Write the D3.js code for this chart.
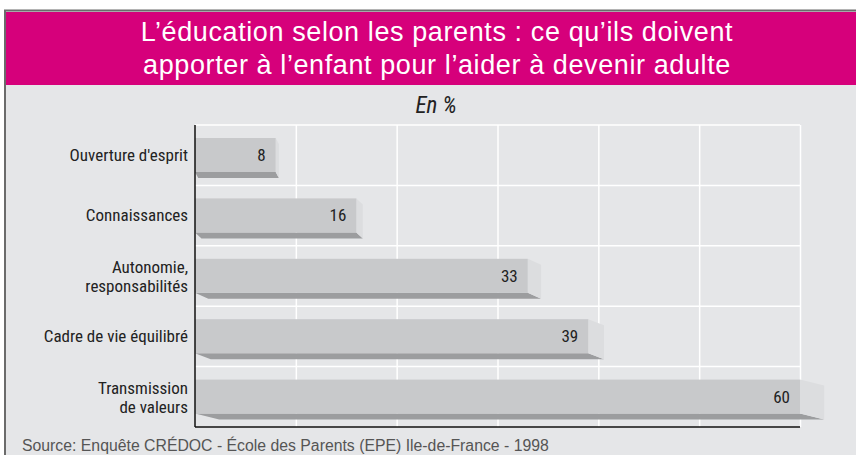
<!DOCTYPE html>
<html>
<head>
<meta charset="utf-8">
<script src="https://cdn.jsdelivr.net/npm/d3@7"></script>
<style>
  body { margin: 0; background: #fff; }
  svg { display: block; }
</style>
</head>
<body>
<div id="chart"></div>
<script>
// Données
const categories = ["Ouverture d'esprit", "Connaissances", "Autonomie,\nresponsabilités", "Cadre de vie équilibré", "Transmission\nde valeurs"];
const values = [8, 16, 33, 39, 60];
const xTicks = [0, 10, 20, 30, 40, 50, 60];
const titleLines = ["L\u2019éducation selon les parents : ce qu\u2019ils doivent", "apporter à l\u2019enfant pour l\u2019aider à devenir adulte"];
const unitLabel = "En %";
const sourceText = "Source: Enquête CRÉDOC - École des Parents (EPE) Ile-de-France - 1998";

const svgWidth = 856;
const svgHeight = 455;
const narrow = "'Liberation Sans Narrow', 'Arial Narrow', 'Roboto Condensed', sans-serif";

const svg = d3.select("#chart")
    .append("svg")
    .attr("width", svgWidth)
    .attr("height", svgHeight);

// Cadre + fond
svg.append("rect")
    .attr("x", 5).attr("y", 10.5)
    .attr("width", 870).attr("height", 460)
    .attr("fill", "#e5e6e8")
    .attr("stroke", "#6b6b6b")
    .attr("stroke-width", 2);

svg.append("rect")
    .attr("x", 6).attr("y", 12)
    .attr("width", 850).attr("height", 73)
    .attr("fill", "#d6007b");

svg.append("g")
    .selectAll("text")
    .data(titleLines)
    .enter().append("text")
    .attr("x", 437)
    .attr("y", (d, i) => 41 + i * 33)
    .attr("text-anchor", "middle")
    .attr("font-family", "'Liberation Sans', Arial, sans-serif")
    .attr("font-size", 27)
    .attr("letter-spacing", 0.6)
    .attr("fill", "#fff")
    .text(d => d);

svg.append("text")
    .attr("x", 436).attr("y", 113)
    .attr("text-anchor", "middle")
    .attr("font-family", narrow)
    .attr("font-style", "italic")
    .attr("font-size", 23)
    .attr("fill", "#222")
    .text(unitLabel);

// Échelles
const x = d3.scaleLinear().domain([0, 60]).range([195, 800]);
const y = d3.scaleBand().domain(categories).range([125, 427]).padding(0);

// Grille
svg.append("g")
    .attr("transform", "translate(0,427)")
    .call(d3.axisBottom(x).tickValues(xTicks.slice(1)).tickSize(-302).tickFormat(""))
    .call(g => g.select(".domain").remove())
    .call(g => g.selectAll(".tick line").attr("stroke", "#fff").attr("stroke-width", 1.5));

svg.append("g")
    .selectAll("line")
    .data(categories)
    .enter().append("line")
    .attr("x1", x(0)).attr("x2", x(60))
    .attr("y1", d => y(d)).attr("y2", d => y(d))
    .attr("stroke", "#fff").attr("stroke-width", 1.5);

// Barres 3D
const barTop = 13, barH = 34, depthY = 6;
const bars = svg.append("g")
    .selectAll("g")
    .data(categories.map((c, i) => ({ c, v: values[i] })))
    .enter().append("g");

const dx = d => (x(d.v) - x(0)) * 0.04;

bars.append("path")
    .attr("fill", "#9c9d9f")
    .attr("d", d => {
        const t = y(d.c) + barTop + barH;
        return `M${x(0)},${t}L${x(d.v)},${t}L${x(d.v) + dx(d)},${t + depthY}L${x(0) + dx(d)},${t + depthY}Z`;
    });

bars.append("path")
    .attr("fill", "#dcdddf")
    .attr("d", d => {
        const t = y(d.c) + barTop;
        return `M${x(d.v)},${t}L${x(d.v) + dx(d)},${t + depthY}L${x(d.v) + dx(d)},${t + barH + depthY}L${x(d.v)},${t + barH}Z`;
    });

bars.append("rect")
    .attr("x", x(0))
    .attr("y", d => y(d.c) + barTop)
    .attr("width", d => x(d.v) - x(0))
    .attr("height", barH)
    .attr("fill", "#c8c9cb");

bars.append("text")
    .attr("x", d => x(d.v) - 10)
    .attr("y", d => y(d.c) + barTop + barH / 2 + 6)
    .attr("text-anchor", "end")
    .attr("font-family", narrow)
    .attr("font-size", 17)
    .attr("fill", "#222")
    .text(d => d.v);

// Axes
svg.append("line")
    .attr("x1", x(0)).attr("x2", x(0))
    .attr("y1", 125).attr("y2", 427)
    .attr("stroke", "#111").attr("stroke-width", 1.5);
svg.append("line")
    .attr("x1", x(0)).attr("x2", x(60))
    .attr("y1", 427).attr("y2", 427)
    .attr("stroke", "#111").attr("stroke-width", 1.5);

// Libellés
const labels = svg.append("g")
    .attr("font-family", narrow)
    .attr("font-size", 17)
    .attr("fill", "#222")
    .attr("text-anchor", "end")
    .selectAll("text")
    .data(categories)
    .enter().append("text")
    .attr("y", d => y(d) + barTop + barH / 2 + 6);

labels.selectAll("tspan")
    .data(d => d.split("\n").map((s, i, a) => ({ s, dy: a.length > 1 ? (i === 0 ? -9 : 19) : 0 })))
    .enter().append("tspan")
    .attr("x", 188)
    .attr("dy", d => d.dy)
    .text(d => d.s);

svg.append("text")
    .attr("x", 22).attr("y", 451)
    .attr("font-family", "'Liberation Sans', sans-serif")
    .attr("font-size", 15.8)
    .attr("fill", "#555")
    .text(sourceText);
</script>
</body>
</html>
